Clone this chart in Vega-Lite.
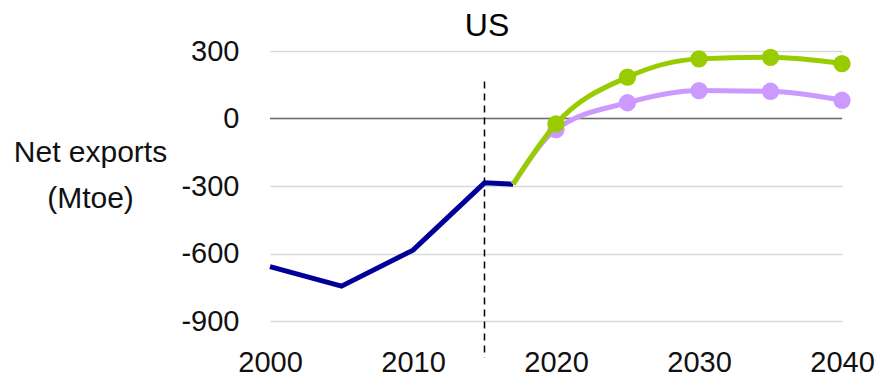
{
  "$schema": "https://vega.github.io/schema/vega-lite/v6.json",
  "width": 572,
  "height": 292.5,
  "autosize": {"type": "none"},
  "padding": {"left": 270, "top": 51, "right": 39, "bottom": 34.5},
  "background": "white",
  "title": {
    "text": "US",
    "fontSize": 32,
    "font": "Liberation Sans",
    "fontWeight": "normal",
    "color": "#000000",
    "anchor": "middle",
    "dx": -69,
    "dy": 8,
    "offset": 2
  },
  "config": {
    "view": {"stroke": null},
    "font": "Liberation Sans",
    "axis": {
      "labelFont": "Liberation Sans",
      "labelFontSize": 29,
      "labelColor": "#111111",
      "domain": false,
      "ticks": false
    }
  },
  "datasets": {
    "netExports": [
      {"series": "Historical", "year": 2000, "value": -658},
      {"series": "Historical", "year": 2005, "value": -745},
      {"series": "Historical", "year": 2010, "value": -585},
      {"series": "Historical", "year": 2015, "value": -286},
      {"series": "Historical", "year": 2017, "value": -292},
      {"series": "Projection high", "year": 2017, "value": -292},
      {"series": "Projection high", "year": 2020, "value": -24},
      {"series": "Projection high", "year": 2025, "value": 184},
      {"series": "Projection high", "year": 2030, "value": 265},
      {"series": "Projection high", "year": 2035, "value": 272},
      {"series": "Projection high", "year": 2040, "value": 244},
      {"series": "Projection low", "year": 2017, "value": -292},
      {"series": "Projection low", "year": 2020, "value": -49},
      {"series": "Projection low", "year": 2025, "value": 70},
      {"series": "Projection low", "year": 2030, "value": 124},
      {"series": "Projection low", "year": 2035, "value": 121},
      {"series": "Projection low", "year": 2040, "value": 81}
    ],
    "zeroLine": [
      {"x": 2000, "x2": 2040, "y": 0}
    ],
    "marker": [
      {"year": 2015, "top": 164, "bottom": -1063}
    ]
  },
  "layer": [
    {
      "data": {"name": "zeroLine"},
      "mark": {"type": "rule", "color": "#6e6e6e", "strokeWidth": 1.5},
      "encoding": {
        "x": {
          "field": "x",
          "type": "quantitative",
          "scale": {"domain": [2000, 2040], "nice": false, "zero": false},
          "axis": {
            "values": [2000, 2010, 2020, 2030, 2040],
            "labelExpr": "'' + datum.value",
            "title": null,
            "grid": false,
            "labelPadding": 5,
            "labelFlush": false,
            "labelOverlap": false
          }
        },
        "x2": {"field": "x2"},
        "y": {
          "field": "y",
          "type": "quantitative",
          "scale": {"domain": [-1000, 300], "nice": false, "zero": false},
          "axis": {
            "values": [-900, -600, -300, 0, 300],
            "labelExpr": "'' + datum.value",
            "grid": true,
            "gridColor": "#d9d9d9",
            "gridWidth": 1.5,
            "labelPadding": 31,
            "title": ["Net exports", "(Mtoe)"],
            "titleAngle": 0,
            "titleFont": "Liberation Sans",
            "titleFontSize": 30,
            "titleFontWeight": "normal",
            "titleColor": "#111111",
            "titleAlign": "center",
            "titleBaseline": "alphabetic",
            "titleLineHeight": 46,
            "titleX": -180,
            "titleY": 110
          }
        }
      }
    },
    {
      "data": {"name": "marker"},
      "mark": {"type": "rule", "color": "#000000", "strokeWidth": 1.5, "strokeDash": [7, 5], "clip": false},
      "encoding": {
        "x": {"field": "year", "type": "quantitative"},
        "y": {"field": "top", "type": "quantitative"},
        "y2": {"field": "bottom"}
      }
    },
    {
      "data": {"name": "netExports"},
      "transform": [{"filter": "datum.series === 'Historical'"}],
      "mark": {"type": "line", "color": "#000099", "strokeWidth": 5},
      "encoding": {
        "x": {"field": "year", "type": "quantitative"},
        "y": {"field": "value", "type": "quantitative"}
      }
    },
    {
      "data": {"name": "netExports"},
      "transform": [{"filter": "datum.series === 'Projection low'"}],
      "mark": {"type": "line", "color": "#cc99ff", "strokeWidth": 5, "interpolate": "monotone"},
      "encoding": {
        "x": {"field": "year", "type": "quantitative"},
        "y": {"field": "value", "type": "quantitative"}
      }
    },
    {
      "data": {"name": "netExports"},
      "transform": [{"filter": "datum.series === 'Projection low' && datum.year >= 2020"}],
      "mark": {"type": "point", "filled": true, "opacity": 1, "color": "#cc99ff", "size": 300},
      "encoding": {
        "x": {"field": "year", "type": "quantitative"},
        "y": {"field": "value", "type": "quantitative"}
      }
    },
    {
      "data": {"name": "netExports"},
      "transform": [{"filter": "datum.series === 'Projection high'"}],
      "mark": {"type": "line", "color": "#99cc00", "strokeWidth": 5, "interpolate": "monotone"},
      "encoding": {
        "x": {"field": "year", "type": "quantitative"},
        "y": {"field": "value", "type": "quantitative"}
      }
    },
    {
      "data": {"name": "netExports"},
      "transform": [{"filter": "datum.series === 'Projection high' && datum.year >= 2020"}],
      "mark": {"type": "point", "filled": true, "opacity": 1, "color": "#99cc00", "size": 300},
      "encoding": {
        "x": {"field": "year", "type": "quantitative"},
        "y": {"field": "value", "type": "quantitative"}
      }
    }
  ]
}
